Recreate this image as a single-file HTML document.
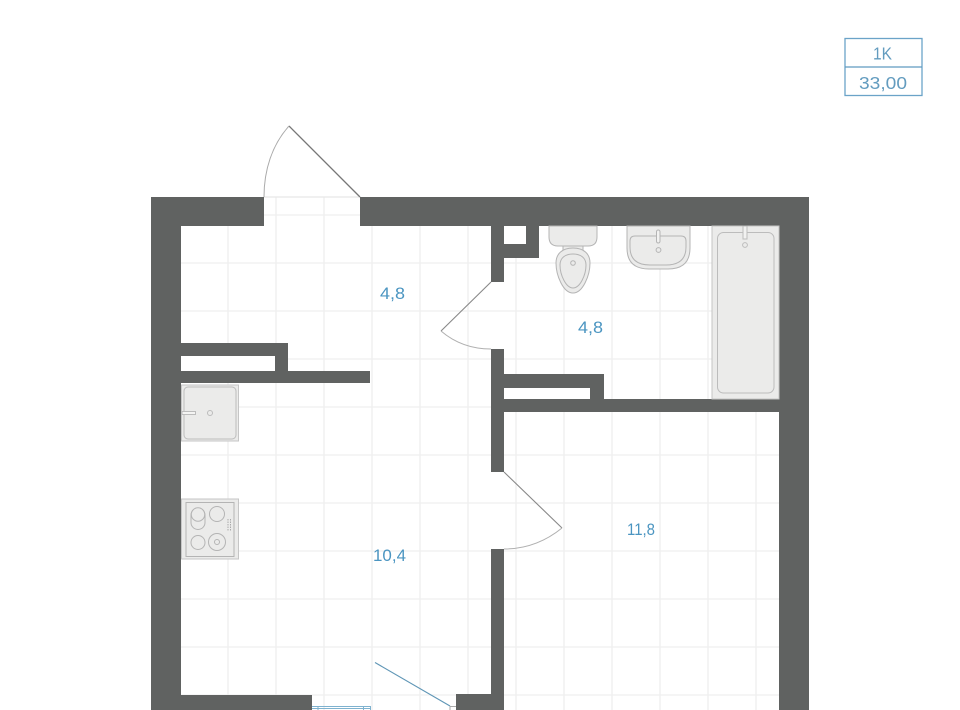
<!DOCTYPE html>
<html>
<head>
<meta charset="utf-8">
<style>
html,body{margin:0;padding:0;background:#fff;width:960px;height:710px;overflow:hidden}
svg{display:block}
text{font-family:"Liberation Sans",sans-serif}
</style>
</head>
<body>
<svg width="960" height="710" viewBox="0 0 960 710" xmlns="http://www.w3.org/2000/svg">
<rect width="960" height="710" fill="#fff"/>

<!-- grid -->
<g stroke="#efefef" stroke-width="1.3" fill="none">
<path d="M228 197V710M276 197V710M324 197V710M372 197V710M420 197V710M468 197V710M516 226V710M564 226V710M612 226V710M660 226V710M708 226V710M756 412V710"/>
<path d="M181 215H491M181 263H779M181 311H779M181 359H779M181 407H779M181 455H779M181 503H779M181 551H779M181 599H779M181 647H779M181 695H779"/>
<path d="M264 197H360" stroke="#e8e8e8"/>
</g>

<!-- interior whites -->
<rect x="181" y="356" width="94" height="15" fill="#fff"/>
<rect x="504" y="388" width="86" height="11" fill="#fff"/>
<rect x="504" y="226" width="22" height="18" fill="#fff"/>

<!-- walls -->
<g fill="#606261">
<rect x="151" y="197" width="113" height="29"/>
<rect x="360" y="197" width="449" height="29"/>
<rect x="151" y="197" width="30" height="513"/>
<rect x="779" y="197" width="30" height="513"/>
<rect x="151" y="695" width="161" height="15"/>
<rect x="456" y="694" width="48" height="16"/>
<rect x="491" y="226" width="13" height="56"/>
<rect x="491" y="349" width="13" height="123"/>
<rect x="491" y="549" width="13" height="161"/>
<rect x="526" y="226" width="13" height="32"/>
<rect x="504" y="244" width="35" height="14"/>
<rect x="504" y="374" width="100" height="14"/>
<rect x="590" y="374" width="14" height="26"/>
<rect x="491" y="399" width="288" height="13"/>
<rect x="181" y="343" width="107" height="13"/>
<rect x="275" y="343" width="13" height="30"/>
<rect x="181" y="371" width="189" height="12"/>
</g>

<!-- doors -->
<g fill="none" stroke="#8a8a8a">
<path d="M360 197L289 126" stroke-width="1.300" stroke="#777"/>
<path d="M289 126C272 145 264 170 264 197" stroke="#aaa" stroke-width="1"/>
<path d="M491 282L441 331" stroke-width="1.100" stroke="#888"/>
<path d="M441 331C455 343 472 349 491 349" stroke="#b0b0b0" stroke-width="1"/>
<path d="M504 472L562 528" stroke-width="1.100" stroke="#888"/>
<path d="M562 528C546 541 526 549 504 549" stroke="#b0b0b0" stroke-width="1"/>
</g>

<!-- toilet -->
<g fill="#ebebea" stroke="#b4b4b4" stroke-width="1">
<path d="M549 226H597V237Q597 246 588 246H558Q549 246 549 237Z"/>
<path d="M563 246H583V250H563Z"/>
<path d="M573 248C584 248 590 254 590 263C590 275 583 293 573 293C563 293 556 275 556 263C556 254 562 248 573 248Z"/>
<path d="M573 254C581 254 586 258 586 265C586 275 580 288 573 288C566 288 560 275 560 265C560 258 565 254 573 254Z"/>
<circle cx="573" cy="263" r="2.300"/>
</g>

<!-- bathroom sink -->
<g fill="#ebebea" stroke="#b4b4b4" stroke-width="1">
<path d="M627 226H690V248Q690 269 668 269H649Q627 269 627 248Z"/>
<path d="M635 236H681Q686 236 686 241V247Q686 265 666 265H650Q630 265 630 247V241Q630 236 635 236Z"/>
<rect x="656.500" y="230" width="3.500" height="13" rx="1.700" fill="#f2f2f1"/>
<circle cx="658.500" cy="250" r="2.400"/>
</g>

<!-- bathtub -->
<g fill="#ebebea" stroke="#bcbcbc" stroke-width="1">
<rect x="712" y="226" width="67" height="173" stroke="#c4c4c4"/>
<rect x="717.500" y="232.500" width="56.500" height="160.500" rx="6"/>
<path d="M743 226V239H747V226Z" fill="#f2f2f1"/>
<circle cx="745" cy="245" r="2.400"/>
</g>

<!-- kitchen sink -->
<g fill="#ebebea" stroke="#bcbcbc" stroke-width="1">
<rect x="181.500" y="385" width="57" height="56" stroke="#c6c6c6"/>
<rect x="184" y="387" width="52" height="52" rx="4"/>
<path d="M182 411.500H195.500V414.500H182Z" fill="#f4f4f3"/>
<circle cx="210" cy="413" r="2.500"/>
</g>

<!-- stove -->
<g fill="#ebebea" stroke="#b4b4b4" stroke-width="1">
<rect x="181.500" y="499" width="57" height="60" stroke="#c6c6c6"/>
<rect x="186" y="502.500" width="48" height="54"/>
<rect x="191" y="508" width="14" height="21.500" rx="7"/>
<circle cx="198" cy="514.500" r="6.700"/>
<circle cx="217" cy="514" r="7.500"/>
<circle cx="198" cy="542.500" r="7"/>
<circle cx="217" cy="542" r="8.500"/>
<circle cx="217" cy="542" r="2.500"/>
<path d="M228 519V531M230.500 519V531" stroke-dasharray="1.500 1" stroke="#aaa"/>
</g>

<!-- window + balcony door -->
<g fill="none" stroke="#7fb2cf" stroke-width="1">
<path d="M312 706.500H370.500V710M312 708.500H370M318 706.500V710M363.500 706.500V710"/>
<path d="M375 662.500L450 706" stroke="#5f96b6" stroke-width="1.100"/>
<path d="M450 706.500H456M450 706.500V710" stroke="#aaa"/>
</g>

<!-- room labels -->
<g fill="#4b95c1" font-size="17">
<text x="380" y="299" textLength="25" lengthAdjust="spacingAndGlyphs">4,8</text>
<text x="578" y="333" textLength="25" lengthAdjust="spacingAndGlyphs">4,8</text>
<text x="627" y="535" textLength="28" lengthAdjust="spacingAndGlyphs">11,8</text>
<text x="373" y="561" textLength="33" lengthAdjust="spacingAndGlyphs">10,4</text>
</g>

<!-- legend -->
<rect x="845" y="38.500" width="77" height="57" fill="#fff" stroke="#6ba3c8" stroke-width="1.300"/>
<path d="M845 67H922" stroke="#5f9ac0" stroke-width="1.300"/>
<g fill="#639cbf" font-size="17.500">
<text x="873" y="59.500" textLength="19" lengthAdjust="spacingAndGlyphs">1K</text>
<text x="859" y="89" textLength="48" lengthAdjust="spacingAndGlyphs">33,00</text>
</g>
</svg>
</body>
</html>
